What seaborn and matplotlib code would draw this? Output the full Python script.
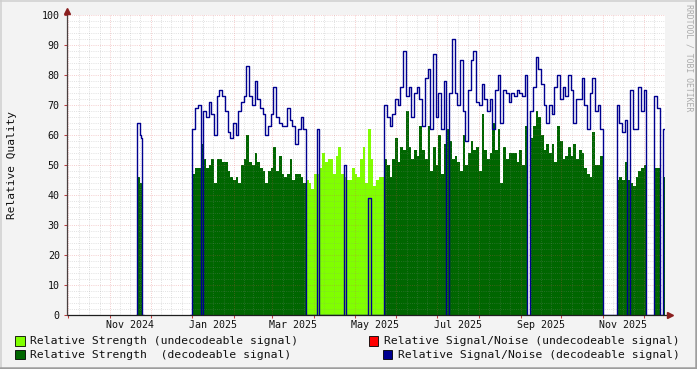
import numpy as np
import pandas as pd
import matplotlib
matplotlib.use("Agg")
import matplotlib.pyplot as plt
import matplotlib.dates as mdates
from matplotlib.patches import Rectangle
from matplotlib.lines import Line2D
import seaborn as sns

# ---------------- data ----------------
# short episode in November 2024 (one value per day)
nov_start = "2024-11-20"
nov_step_days = 1
nov_strength = [0, 46, 46, 44, 44, 0]
nov_snr = [0, 64, 64, 60, 59, 0]

# main period (one value per 2 days)
main_start = "2024-12-30"
main_step_days = 2
main_strength = [0,
    47, 49, 49, 57, 52, 49, 50, 52, 44, 52,
    52, 51, 51, 48, 46, 45, 46, 44, 50, 52,
    60, 51, 50, 54, 51, 49, 48, 44, 48, 49,
    56, 48, 53, 47, 46, 47, 52, 45, 47, 47,
    46, 44, 45, 44, 42, 47, 47, 49, 54, 51,
    52, 52, 47, 53, 56, 47, 46, 45, 45, 49,
    47, 46, 52, 56, 44, 62, 52, 43, 45, 46,
    46, 52, 50, 46, 52, 59, 51, 56, 55, 68,
    56, 52, 55, 53, 63, 55, 52, 63, 48, 56,
    50, 60, 47, 57, 62, 58, 52, 53, 51, 48,
    60, 50, 54, 58, 55, 56, 48, 67, 55, 52,
    54, 64, 55, 62, 44, 56, 52, 54, 54, 54,
    51, 55, 50, 63, 0, 59, 63, 68, 66, 60,
    55, 57, 54, 57, 51, 63, 58, 52, 53, 56,
    53, 57, 52, 55, 54, 49, 47, 46, 61, 50,
    50, 53, 0, 0, 0, 0, 0, 45, 46, 45,
    51, 45, 44, 43, 46, 48, 49, 50, 0, 0,
    0, 49, 49, 0, 46]
main_snr = [0,
    62, 69, 70, 0, 68, 66, 71, 67, 60, 73,
    75, 73, 68, 61, 59, 64, 60, 68, 71, 73,
    83, 73, 70, 78, 72, 69, 67, 60, 63, 67,
    76, 66, 64, 63, 63, 69, 65, 63, 57, 62,
    66, 62, 0, 0, 0, 0, 62, 0, 0, 0,
    0, 0, 0, 0, 0, 0, 50, 0, 0, 0,
    0, 0, 0, 0, 0, 39, 0, 0, 0, 0,
    0, 70, 66, 63, 67, 72, 70, 76, 88, 73,
    76, 66, 74, 76, 72, 63, 79, 82, 62, 87,
    66, 74, 62, 78, 0, 74, 92, 74, 70, 85,
    68, 58, 75, 85, 88, 71, 70, 77, 72, 68,
    72, 62, 75, 80, 64, 75, 74, 71, 74, 73,
    75, 74, 73, 80, 0, 68, 76, 86, 82, 77,
    70, 64, 70, 67, 76, 80, 72, 76, 73, 80,
    75, 64, 72, 72, 79, 70, 62, 74, 79, 68,
    70, 62, 0, 0, 0, 0, 0, 70, 64, 61,
    65, 0, 75, 62, 62, 76, 68, 75, 0, 0,
    0, 73, 69, 0, 62]
# bins of the main period where the signal was not decodeable
undecodeable_bins = [(43, 72)]

x_range = ("2024-09-30 04:00", "2025-12-16 19:00")
x_tick_labels = ["Nov 2024", "Jan 2025", "Mar 2025", "May 2025",
                 "Jul 2025", "Sep 2025", "Nov 2025"]
y_ticks = [0, 10, 20, 30, 40, 50, 60, 70, 80, 90, 100]
y_label = "Relative Quality"
legend_labels = ["Relative Strength (undecodeable signal)",
                 "Relative Strength  (decodeable signal)",
                 "Relative Signal/Noise (undecodeable signal)",
                 "Relative Signal/Noise (decodeable signal)"]
legend_colors = ["#80FF00", "#006600", "#FF0000", "#000090"]
watermark = "RRDTOOL / TOBI OETIKER"

C_LIME, C_DGREEN, C_RED, C_NAVY = legend_colors

# ---------------- style ----------------
sns.set_theme(style="white")
plt.rcParams['font.family'] = ['DejaVu Sans Mono', 'DejaVu Sans']

W, H, DPI = 697, 369, 100
fig = plt.figure(figsize=(W / DPI, H / DPI), dpi=DPI)
fig.patch.set_facecolor('#F3F3F3')
PX0, PX1, PY0, PY1 = 67, 665, 14.7, 314.7
ax = fig.add_axes([PX0 / W, 1 - PY1 / H, (PX1 - PX0) / W, (PY1 - PY0) / H])
ax.set_facecolor('white')
for s in ax.spines.values():
    s.set_visible(False)


def edges(start, n, step):
    s0 = mdates.date2num(pd.Timestamp(start))
    return s0 + step * np.arange(n + 1)


def draw_segment(start, step, strength, snr, undec):
    strength = np.asarray(strength, float)
    snr = np.asarray(snr, float)
    xe = edges(start, len(strength), step)
    mask = np.zeros(len(strength), bool)
    for a, b in undec:
        mask[a:b] = True
    dec = np.where(mask, 0, strength)
    und = np.where(mask, strength, 0)
    ax.fill_between(xe, np.append(dec, dec[-1]), step='post', color=C_DGREEN,
                    lw=0, zorder=1)
    ax.fill_between(xe, np.append(und, und[-1]), step='post', color=C_LIME,
                    lw=0, zorder=1)
    sns.lineplot(x=xe, y=np.append(snr, snr[-1]), drawstyle='steps-post',
                 color=C_NAVY, lw=1.0, ax=ax, zorder=4)


draw_segment(nov_start, nov_step_days, nov_strength, nov_snr, [])
draw_segment(main_start, main_step_days, main_strength, main_snr, undecodeable_bins)

xl = [mdates.date2num(pd.Timestamp(t)) for t in x_range]
ax.set_xlim(xl)
ax.set_ylim(y_ticks[0], y_ticks[-1])
ax.set_xlabel('')
ax.set_ylabel('')

# month grid
months = pd.date_range("2024-09-01", "2026-01-01", freq="MS")
month_starts, quarter_pts = [], []
for a, b in zip(months[:-1], months[1:]):
    na, nb = mdates.date2num(a), mdates.date2num(b)
    month_starts.append(na)
    for k in (1, 2, 3):
        quarter_pts.append(na + (nb - na) * k / 4)
month_starts = [m for m in month_starts if xl[0] <= m <= xl[1]]
quarter_pts = [m for m in quarter_pts if xl[0] <= m <= xl[1]]

GRID = (0.56, 0.56, 0.56, 0.30)
MGRID = (0.87, 0.31, 0.31, 0.32)
dots = (0, (1, 1.4))
for q in quarter_pts:
    ax.axvline(q, color=GRID, lw=0.65, ls=dots, zorder=2)
for m in month_starts:
    ax.axvline(m, color=MGRID, lw=0.65, ls=dots, zorder=2)
for y in range(2, 101, 2):
    ax.axhline(y, color=(MGRID if y % 10 == 0 else GRID), lw=0.65, ls=dots, zorder=2)

# ticks
label_pos = []
for lab in x_tick_labels:
    a = pd.Timestamp(pd.to_datetime(lab, format="%b %Y"))
    b = a + pd.offsets.MonthBegin(1)
    label_pos.append((mdates.date2num(a) + mdates.date2num(b)) / 2)
ax.set_xticks(month_starts)
ax.set_xticklabels([])
ax.set_xticks(label_pos, minor=True)
ax.set_xticklabels(x_tick_labels, minor=True)
ax.tick_params(axis='x', which='major', length=2, width=0.75, color='#C04040',
               direction='out', bottom=True)
ax.tick_params(axis='x', which='minor', length=0, pad=3.6, labelsize=7.2,
               labelcolor='#111111', bottom=True)
ax.set_yticks(y_ticks)
ax.set_yticklabels([str(v) for v in y_ticks])
ax.tick_params(axis='y', which='major', length=2, width=0.75, color='#C04040',
               direction='out', pad=3.2, labelsize=7.2, labelcolor='#111111', left=True)

# axes with arrows
ax.add_line(Line2D([0, 1 + 3.5 / 598], [0, 0], transform=ax.transAxes,
                   color='#1E1E1E', lw=0.9, clip_on=False, zorder=5))
ax.add_line(Line2D([0, 0], [0, 1 + 4 / 300], transform=ax.transAxes,
                   color='#4A4040', lw=0.9, clip_on=False, zorder=5))
ax.plot([1 + 5 / 598], [0], marker='>', ms=4.2, color='#8A1F1F', mec='#8A1F1F',
        transform=ax.transAxes, clip_on=False, zorder=6)
ax.plot([0], [1 + 4 / 300], marker='^', ms=4.2, color='#8A1F1F', mec='#8A1F1F',
        transform=ax.transAxes, clip_on=False, zorder=6)

# y label and watermark
fig.text(12 / W, 1 - 165 / H, y_label, rotation=90, ha='center', va='center',
         fontsize=8.0, color='#111111')
fig.text(688.5 / W, 1 - 4 / H, watermark, rotation=-90, ha='center', va='top',
         fontsize=5.9, color='#ABABAB')

# legend
fs = 8.2
rows = [341, 354.5]
sw = 9.5


def swatch(xpx, ypx, col):
    fig.add_artist(Rectangle((xpx / W, 1 - (ypx + sw / 2) / H), sw / W, sw / H,
                             transform=fig.transFigure, facecolor=col,
                             edgecolor='black', lw=0.6))


for i in range(2):
    swatch(15, rows[i], legend_colors[i])
    fig.text(30 / W, 1 - rows[i] / H, legend_labels[i], ha='left', va='center',
             fontsize=fs, color='#111111')
fig.canvas.draw()
rend = fig.canvas.get_renderer()
for i in range(2):
    t = fig.text(679.5 / W, 1 - rows[i] / H, legend_labels[2 + i], ha='right',
                 va='center', fontsize=fs, color='#111111')
    bb = t.get_window_extent(renderer=rend)
    swatch(bb.x0 - 15, rows[i], legend_colors[2 + i])

# frame
fig.add_artist(Line2D([0, 1], [1 - 0.75 / H] * 2, transform=fig.transFigure, color='#CFCFCF', lw=1.1))
fig.add_artist(Line2D([0.75 / W] * 2, [0, 1], transform=fig.transFigure, color='#CFCFCF', lw=1.1))
fig.add_artist(Line2D([0, 1], [1.25 / H] * 2, transform=fig.transFigure, color='#9E9E9E', lw=1.8))
fig.add_artist(Line2D([1 - 1.25 / W] * 2, [0, 1], transform=fig.transFigure, color='#9E9E9E', lw=1.8))

fig.savefig("out.png", dpi=DPI, facecolor=fig.get_facecolor())
